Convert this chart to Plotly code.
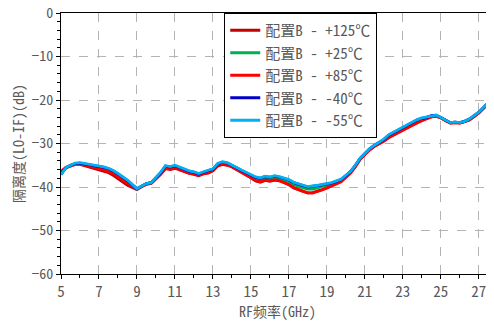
import numpy as np
import plotly.graph_objects as go

freq_ghz = np.round(np.arange(5.0, 27.76, 0.25), 2)

iso_p125 = [-36.6, -35.6, -35.2, -34.8, -34.8, -35.1, -35.4, -35.7, -36.0, -36.3, -36.7, -37.3, -38.1, -39.0, -39.6, -40.1,
            -40.6, -39.9, -39.4, -39.2, -38.2, -37.1, -35.8, -36.0, -35.7, -36.1, -36.5, -36.9, -37.1, -37.4, -37.0, -36.8,
            -36.3, -35.2, -34.8, -35.0, -35.4, -36.0, -36.6, -37.2, -37.9, -38.6, -38.9, -38.5, -38.7, -38.4, -38.6, -39.0,
            -39.5, -40.2, -40.6, -41.0, -41.4, -41.3, -41.0, -40.6, -40.2, -39.7, -39.2, -38.7, -37.7, -36.7, -35.3, -33.6,
            -32.5, -31.4, -30.6, -30.0, -29.4, -28.6, -28.0, -27.5, -26.9, -26.3, -25.7, -25.2, -24.7, -24.3, -23.9, -23.7,
            -24.1, -24.8, -25.3, -25.2, -25.3, -25.0, -24.6, -23.8, -23.0, -21.9, -20.8, -19.7]
iso_p25 = [-36.9, -35.6, -35.1, -34.6, -34.6, -34.8, -35.0, -35.3, -35.5, -35.8, -36.1, -36.6, -37.3, -38.0, -38.8, -39.6,
           -40.4, -39.8, -39.2, -39.0, -37.9, -36.8, -35.4, -35.6, -35.3, -35.7, -36.2, -36.6, -36.8, -37.1, -36.7, -36.4,
           -36.0, -34.8, -34.4, -34.6, -35.1, -35.7, -36.3, -36.8, -37.4, -38.1, -38.3, -37.9, -38.1, -37.8, -38.0, -38.4,
           -38.8, -39.5, -39.9, -40.2, -40.5, -40.5, -40.2, -39.9, -39.6, -39.3, -38.9, -38.4, -37.5, -36.5, -35.1, -33.5,
           -32.4, -31.3, -30.5, -29.8, -29.2, -28.3, -27.7, -27.1, -26.5, -25.9, -25.3, -24.8, -24.4, -24.1, -23.7, -23.6,
           -24.0, -24.7, -25.2, -25.1, -25.2, -24.9, -24.5, -23.7, -22.9, -21.8, -20.7, -19.6]
iso_p85 = [-36.4, -35.5, -35.1, -34.7, -34.7, -35.0, -35.2, -35.5, -35.8, -36.0, -36.4, -36.9, -37.6, -38.4, -39.2, -39.9,
           -40.5, -39.9, -39.3, -39.1, -38.1, -37.0, -35.7, -35.9, -35.6, -36.0, -36.4, -36.8, -37.0, -37.3, -36.9, -36.7,
           -36.2, -35.1, -34.7, -34.9, -35.3, -35.9, -36.5, -37.1, -37.8, -38.5, -38.8, -38.4, -38.6, -38.3, -38.5, -38.9,
           -39.4, -40.1, -40.6, -41.0, -41.3, -41.4, -41.0, -40.7, -40.2, -39.8, -39.3, -38.8, -37.8, -36.8, -35.4, -33.7,
           -32.6, -31.5, -30.7, -30.1, -29.5, -28.7, -28.1, -27.5, -26.9, -26.3, -25.7, -25.1, -24.7, -24.3, -23.9, -23.7,
           -24.1, -24.8, -25.3, -25.2, -25.3, -25.0, -24.6, -23.8, -23.0, -21.9, -20.8, -19.7]
iso_m40 = [-37.1, -35.6, -35.0, -34.6, -34.5, -34.7, -34.8, -35.1, -35.3, -35.5, -35.8, -36.3, -37.0, -37.7, -38.5, -39.5,
           -40.4, -39.8, -39.2, -39.0, -37.8, -36.7, -35.2, -35.4, -35.1, -35.5, -36.0, -36.4, -36.6, -37.0, -36.6, -36.3,
           -35.9, -34.7, -34.3, -34.5, -35.0, -35.6, -36.2, -36.7, -37.2, -37.8, -38.0, -37.6, -37.8, -37.5, -37.7, -38.0,
           -38.4, -39.0, -39.4, -39.7, -40.0, -39.9, -39.7, -39.5, -39.3, -39.1, -38.7, -38.3, -37.4, -36.4, -35.0, -33.4,
           -32.3, -31.2, -30.4, -29.7, -29.1, -28.1, -27.5, -26.9, -26.3, -25.7, -25.1, -24.6, -24.2, -24.0, -23.6, -23.5,
           -24.0, -24.7, -25.2, -25.1, -25.2, -24.9, -24.4, -23.6, -22.8, -21.7, -20.6, -19.5]
iso_m55 = [-37.2, -35.6, -35.0, -34.5, -34.4, -34.6, -34.7, -35.0, -35.2, -35.4, -35.7, -36.2, -36.9, -37.6, -38.4, -39.4,
           -40.4, -39.8, -39.2, -39.0, -37.8, -36.6, -35.1, -35.3, -35.0, -35.4, -35.9, -36.3, -36.5, -36.9, -36.5, -36.2,
           -35.8, -34.6, -34.2, -34.4, -34.9, -35.5, -36.1, -36.6, -37.1, -37.7, -37.9, -37.5, -37.7, -37.4, -37.6, -37.9,
           -38.3, -38.9, -39.3, -39.6, -39.9, -39.8, -39.6, -39.4, -39.2, -39.0, -38.6, -38.2, -37.3, -36.4, -35.0, -33.4,
           -32.3, -31.2, -30.4, -29.7, -29.0, -28.0, -27.4, -26.8, -26.2, -25.6, -25.0, -24.5, -24.1, -23.9, -23.6, -23.5,
           -24.0, -24.7, -25.2, -25.1, -25.2, -24.9, -24.4, -23.6, -22.8, -21.7, -20.6, -19.5]

series_names = ["配置B - +125℃", "配置B - +25℃", "配置B - +85℃", "配置B - -40℃", "配置B - -55℃"]
series_values = [iso_p125, iso_p25, iso_p85, iso_m40, iso_m55]
series_colors = ["#C00000", "#00B050", "#FF0000", "#0000C8", "#00B0F0"]

x_ticks = [5, 7, 9, 11, 13, 15, 17, 19, 21, 23, 25, 27]
y_ticks = [0, -10, -20, -30, -40, -50, -60]

FONT = "Noto Sans Mono CJK SC, Noto Sans CJK SC, sans-serif"
GRAY = "#595959"

fig = go.Figure()
for name, vals, col in zip(series_names, series_values, series_colors):
    fig.add_trace(go.Scatter(x=freq_ghz, y=vals, mode="lines", name=name,
                             line=dict(color=col, width=2.8)))

# the page body has an 8px default margin; margins below compensate so the
# plot area lands at page x 61..494, y 13..274
fig.update_layout(
    width=494, height=321,
    margin=dict(l=53, r=8, t=5, b=55, autoexpand=False),
    paper_bgcolor="white", plot_bgcolor="white",
    font=dict(family=FONT, color=GRAY, size=14),
    legend=dict(x=0.377, y=1.0, xanchor="left", yanchor="top",
                bgcolor="white", bordercolor="black", borderwidth=1,
                font=dict(family=FONT, size=15, color=GRAY),
                tracegroupgap=0),
    showlegend=True,
)
fig.update_xaxes(
    range=[5, 27.8], tickvals=x_ticks, ticktext=[str(v) for v in x_ticks],
    automargin=False, ticklabeloverflow="allow",
    showline=True, linecolor="black", linewidth=1, mirror=True,
    ticks="outside", ticklen=4, tickcolor="black",
    minor=dict(ticks="outside", dtick=1, tick0=5, ticklen=3, tickcolor="black", showgrid=False),
    showgrid=True, gridcolor="#b4b4b4", griddash="dash", gridwidth=1,
    zeroline=False,
    tickfont=dict(size=15, color=GRAY, family=FONT),
    title=dict(text="RF频率(GHz)", font=dict(size=14, color=GRAY, family=FONT), standoff=4),
)
fig.update_yaxes(
    range=[-60, 0], tickvals=y_ticks, ticktext=["0", "−10", "−20", "−30", "−40", "−50", "−60"],
    automargin=False, ticklabeloverflow="allow",
    showline=True, linecolor="black", linewidth=1, mirror=False,
    ticks="outside", ticklen=4, tickcolor="black",
    minor=dict(ticks="outside", dtick=2, tick0=0, ticklen=3, tickcolor="black", showgrid=False),
    showgrid=True, gridcolor="#b4b4b4", griddash="dash", gridwidth=1,
    zeroline=False,
    tickfont=dict(size=14, color=GRAY, family=FONT),
    title=dict(text="隔离度(LO-IF)(dB)", font=dict(size=14, color=GRAY, family=FONT), standoff=4),
)

fig.write_html("out.html", config={"displayModeBar": False})
